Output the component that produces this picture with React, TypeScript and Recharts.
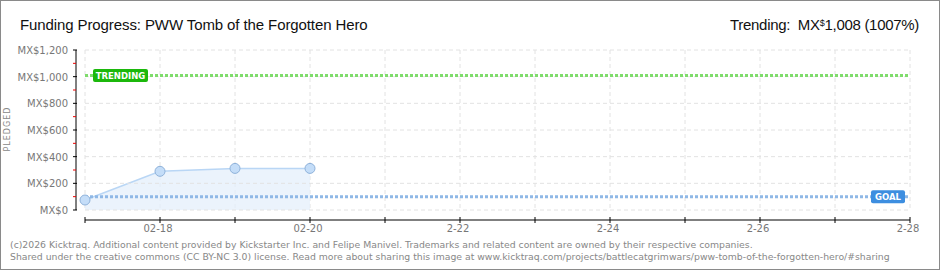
import React from "react";
import {
  AreaChart,
  Area,
  XAxis,
  YAxis,
  CartesianGrid,
  ReferenceLine,
} from "recharts";

// days shown on the x axis, 02-17 .. 02-28
const days = ["02-17", "02-18", "02-19", "02-20", "02-21", "02-22", "02-23", "02-24", "02-25", "02-26", "02-27", "02-28"];
const dayLabels = ["", "02-18", "", "02-20", "", "2-22", "", "2-24", "", "2-26", "", "2-28"];
const pledged = [75, 290, 312, 312];
const yTicks = [0, 100, 200, 300, 400, 500, 600, 700, 800, 900, 1000, 1100, 1200];
const yLabels = ["MX$0", "MX$200", "MX$400", "MX$600", "MX$800", "MX$1,000", "MX$1,200"];
const trending = 1008;
const goal = 100;

const data = pledged.map((v, i) => ({ day: i, date: days[i], pledged: v }));
const dayIdx = days.map((_, i) => i);
const gridValues = yTicks.filter((t) => t % 200 === 0);

const axisFont = "'DejaVu Sans', Verdana, sans-serif";
const titleFont = "'Liberation Sans', Arial, sans-serif";

function YTick(props: any) {
  const { x, y, payload } = props;
  const v = payload.value as number;
  if (v % 200 !== 0) {
    return <line x1={x - 12} x2={x - 9} y1={y} y2={y} stroke="#e00" strokeWidth={1} />;
  }
  return (
    <g>
      <line x1={x - 12} x2={x - 8} y1={y} y2={y} stroke="#000" strokeWidth={1} />
      <text x={x - 17} y={y + 4} textAnchor="end" fill="#777" fontSize={10} fontFamily={axisFont}>
        {yLabels[v / 200]}
      </text>
    </g>
  );
}

function XTick(props: any) {
  const { x, y, payload } = props;
  const label = dayLabels[payload.value as number];
  return (
    <g>
      <line x1={x} x2={x} y1={y + 7} y2={y + 13} stroke="#000" strokeWidth={1} />
      {label && (
        <text x={x - 2} y={y + 22} textAnchor="middle" fill="#777" fontSize={10} fontFamily={axisFont}>
          {label}
        </text>
      )}
    </g>
  );
}

function Tag(props: any) {
  const { viewBox, text, color, align } = props;
  const w = text.length * 5.25 + 13;
  const bx = align === "left" ? viewBox.x + 8 : viewBox.x + viewBox.width - w - 5;
  return (
    <g>
      <rect x={bx} y={viewBox.y - 6.5} width={w} height={13} rx={2} fill={color} />
      <text
        x={bx + w / 2}
        y={viewBox.y + 3.5}
        textAnchor="middle"
        fill="#fff"
        fontSize={8.5}
        fontWeight="bold"
        fontFamily={axisFont}
      >
        {text}
      </text>
    </g>
  );
}

export default function App() {
  return (
    <div
      style={{
        position: "absolute",
        left: 0,
        top: 0,
        width: 940,
        height: 270,
        boxSizing: "border-box",
        border: "1px solid #8a8a8a",
        background: "#fff",
      }}
    >
      <div
        style={{
          position: "absolute",
          left: 19,
          top: 15,
          fontFamily: titleFont,
          fontSize: 15,
          letterSpacing: -0.1,
          color: "#111",
          whiteSpace: "nowrap",
        }}
      >
        Funding Progress: PWW Tomb of the Forgotten Hero
      </div>
      <div
        style={{
          position: "absolute",
          right: 20,
          top: 15,
          fontFamily: titleFont,
          fontSize: 15,
          letterSpacing: -0.3,
          color: "#111",
          whiteSpace: "nowrap",
        }}
      >
        Trending:&nbsp; MX<sup style={{ fontSize: 9, verticalAlign: "4px" }}>$</sup>1,008 (1007%)
      </div>
      <div
        style={{
          position: "absolute",
          left: -16,
          top: 124,
          width: 44,
          textAlign: "center",
          transform: "rotate(-90deg)",
          fontFamily: axisFont,
          fontSize: 8,
          letterSpacing: 1,
          color: "#888",
        }}
      >
        PLEDGED
      </div>
      <div style={{ position: "absolute", left: -1, top: -1 }}>
        <AreaChart width={940} height={270} data={data} margin={{ top: 50, right: 30, bottom: 30, left: 0 }}>
          <CartesianGrid horizontal={false} stroke="#e2e2e2" strokeDasharray="4 3" />
          {gridValues.map((g) => (
            <ReferenceLine key={g} y={g} stroke="#e2e2e2" strokeDasharray="4 3" />
          ))}
          <XAxis
            type="number"
            dataKey="day"
            domain={[0, days.length - 1]}
            ticks={dayIdx}
            interval={0}
            axisLine={false}
            tickLine={false}
            tickSize={0}
            tickMargin={0}
            height={30}
            tick={<XTick />}
          />
          <YAxis
            domain={[0, 1200]}
            ticks={yTicks}
            interval={0}
            axisLine={false}
            tickLine={false}
            tickSize={0}
            tickMargin={0}
            width={85}
            tick={<YTick />}
          />
          <ReferenceLine y={-75} stroke="#000" ifOverflow="visible" />
          <ReferenceLine x={-0.12} stroke="#000" ifOverflow="visible" />
          <Area
            type="linear"
            dataKey="pledged"
            stroke="#b9d6f5"
            strokeWidth={1.5}
            fill="#e4effb"
            fillOpacity={0.75}
            dot={{ r: 5, fill: "#c4ddf8", stroke: "#8fb2da", strokeWidth: 1, fillOpacity: 1 }}
            activeDot={false}
            isAnimationActive={false}
          />
          <ReferenceLine
            y={goal}
            stroke="#8fb8e6"
            strokeWidth={3}
            strokeDasharray="3 2"
            label={<Tag text="GOAL" color="#3d8ee0" align="right" />}
          />
          <ReferenceLine
            y={trending}
            stroke="#7fdc6c"
            strokeWidth={3}
            strokeDasharray="3 2"
            label={<Tag text="TRENDING" color="#1cb80c" align="left" />}
          />
        </AreaChart>
      </div>
      <div
        style={{
          position: "absolute",
          left: 9,
          top: 238,
          fontFamily: axisFont,
          fontSize: 9.3,
          lineHeight: "12px",
          color: "#888",
          whiteSpace: "nowrap",
        }}
      >
        (c)2026 Kicktraq. Additional content provided by Kickstarter Inc. and Felipe Manivel. Trademarks and related content are owned by their respective companies.
        <br />
        Shared under the creative commons (CC BY-NC 3.0) license. Read more about sharing this image at
        www.kicktraq.com/projects/battlecatgrimwars/pww-tomb-of-the-forgotten-hero/#sharing
      </div>
    </div>
  );
}
